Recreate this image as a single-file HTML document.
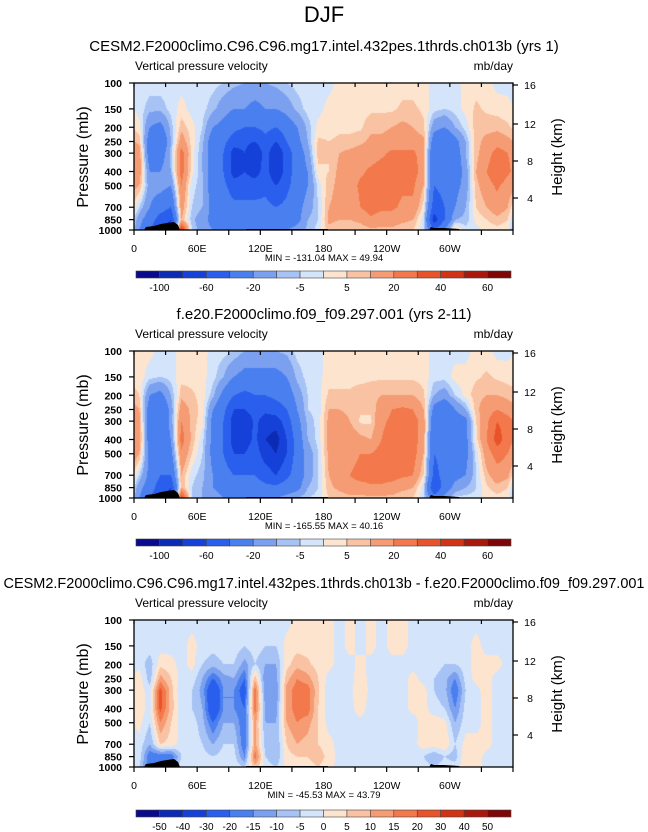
<!DOCTYPE html>
<html><head><meta charset="utf-8"><style>
body{margin:0;background:#fff;}
#wrap{position:relative;width:648px;height:832px;overflow:hidden;font-family:"Liberation Sans",sans-serif;}
canvas{position:absolute;}
svg{position:absolute;left:0;top:0;}
</style></head><body>
<div id="wrap">
<canvas id="c1" width="379" height="147" style="left:134px;top:83px"></canvas>
<canvas id="c2" width="379" height="147" style="left:134px;top:351px"></canvas>
<canvas id="c3" width="379" height="147" style="left:134px;top:620px"></canvas>
<svg id="ov" width="648" height="832">
<text x="324" y="22" font-size="22" text-anchor="middle">DJF</text>
</svg>
</div>
<script>
const levels=[100,150,200,250,300,400,500,700,850,1000];
const colors=["#0a0a8c","#0c2bb5","#1641d8","#2a5fee","#4a7ff0","#7aa0ef","#a7c3f5","#d4e5fb","#fde4cf","#f9c2a2","#f59c74","#f3784b","#e8532a","#d03414","#a9180d","#7e0606"];
const bounds1=[-100,-80,-60,-40,-20,-10,-5,0,5,10,20,30,40,50,60];
const bounds3=[-50,-40,-30,-20,-15,-10,-5,0,5,10,15,20,30,40,50];
const labels1=["-100","","-60","","-20","","-5","","5","","20","","40","","60"];
const labels3=["-50","-40","-30","-20","-15","-10","-5","0","5","10","15","20","30","40","50"];
const xTickLabels=["0","60E","120E","180","120W","60W"];
const pTickLabels=["100","150","200","250","300","400","500","700","850","1000"];
const kmTickLabels=["16","12","8","4"];
const titles=["CESM2.F2000climo.C96.C96.mg17.intel.432pes.1thrds.ch013b (yrs 1)","f.e20.F2000climo.f09_f09.297.001 (yrs 2-11)","CESM2.F2000climo.C96.C96.mg17.intel.432pes.1thrds.ch013b - f.e20.F2000climo.f09_f09.297.001"];
const minmax=["MIN = -131.04  MAX =  49.94","MIN = -165.55  MAX =  40.16","MIN = -45.53  MAX =  43.79"];
// columns: lon 5,15,...,355 ; each column values at levels top->bottom
const field1=[
[-2,-2,2,8,15,15,10,-5,-15,-20],[-2,-8,-20,-30,-30,-20,-15,-20,-30,-40],[-2,-8,-25,-40,-30,-20,-15,-30,-50,-60],[-2,-3,-8,-10,-8,-10,-20,-40,-60,-70],
[-2,2,8,15,25,25,20,15,10,45],[-2,-2,2,3,3,2,-3,-5,-8,-5],[-2,-3,-5,-8,-10,-10,-8,-10,-15,-15],[-3,-8,-20,-30,-30,-30,-30,-25,-25,-20],
[-5,-15,-25,-35,-40,-40,-35,-30,-25,-20],[-8,-20,-35,-50,-70,-70,-50,-35,-30,-20],[-10,-20,-40,-55,-60,-60,-50,-35,-30,-25],[-10,-25,-40,-60,-80,-70,-50,-35,-30,-20],
[-10,-20,-35,-45,-50,-50,-45,-35,-30,-20],[-8,-20,-40,-60,-80,-80,-60,-40,-30,-20],[-5,-15,-30,-40,-50,-50,-45,-35,-30,-20],[-3,-8,-20,-25,-30,-30,-30,-25,-25,-15],
[-2,-3,-8,-10,-15,-20,-20,-15,-10,-8],[-2,-2,2,6,8,3,-3,-5,-5,-3],[-2,2,3,5,5,5,8,10,12,8],[2,2,4,6,10,12,12,12,10,6],
[2,3,4,6,12,15,15,12,10,6],[2,3,4,8,15,18,22,20,12,6],[2,4,8,12,15,22,25,25,18,8],[2,4,8,12,18,25,25,22,15,8],
[2,4,10,15,22,25,25,22,15,8],[3,6,12,15,22,25,22,18,12,6],[3,6,10,15,22,25,22,18,10,5],[2,4,6,12,15,15,10,3,-3,-3],
[-2,-3,-15,-30,-40,-40,-40,-50,-70,-40],[-2,-5,-20,-40,-40,-35,-35,-40,-40,-20],[-2,-3,-10,-25,-30,-30,-25,-20,-10,8],[2,2,-3,-10,-10,-15,-15,-10,-8,-3],
[3,6,8,8,8,10,8,5,2,-2],[2,4,8,12,15,20,15,10,5,2],[-2,3,8,15,25,30,22,15,8,3],[-2,2,6,12,20,22,15,10,5,2]];
const field2=[
[2,3,5,10,15,15,10,-5,-15,-20],[2,-3,-20,-30,-35,-30,-25,-25,-30,-40],[-2,-5,-25,-40,-40,-35,-30,-40,-50,-60],[-2,-3,-10,-15,-15,-20,-25,-40,-60,-70],
[2,3,8,15,20,25,18,10,10,40],[2,3,6,8,8,8,5,-3,-5,-5],[2,2,3,3,2,-3,-5,-8,-10,-10],[-2,-3,-8,-20,-25,-25,-25,-20,-20,-15],
[-3,-10,-25,-35,-40,-40,-40,-30,-25,-20],[-5,-20,-40,-60,-70,-70,-60,-40,-30,-20],[-10,-25,-45,-60,-80,-70,-60,-40,-30,-20],[-10,-25,-40,-50,-55,-55,-50,-40,-30,-20],
[-10,-25,-40,-55,-70,-80,-70,-50,-35,-20],[-10,-25,-35,-50,-70,-90,-80,-60,-35,-20],[-8,-20,-30,-40,-50,-60,-60,-45,-30,-15],[-3,-8,-15,-20,-25,-30,-30,-30,-25,-10],
[-2,-3,-5,-5,-8,-10,-15,-15,-10,-5],[-2,-2,-2,-3,-3,-3,-5,-5,-5,-3],[2,3,6,10,12,12,12,10,8,5],[2,3,6,10,15,15,15,15,12,6],
[2,3,6,8,10,15,15,20,15,8],[2,3,8,6,4,12,20,25,15,8],[2,4,8,6,4,10,20,25,18,8],[2,4,10,15,18,20,25,25,18,8],
[2,4,10,20,22,25,25,25,15,8],[2,4,10,22,25,25,25,22,12,6],[2,4,10,20,25,25,25,20,10,5],[2,3,6,10,15,15,10,5,-3,-3],
[-2,-3,-10,-25,-35,-40,-40,-45,-60,-30],[-2,-3,-15,-35,-40,-40,-35,-35,-30,-15],[-2,2,-5,-20,-30,-35,-30,-25,-15,-3],[-2,2,2,-10,-25,-25,-25,-20,-10,-3],
[2,4,8,8,5,3,-3,-5,-5,-3],[2,6,10,15,18,20,15,8,4,2],[-2,4,10,20,30,35,25,15,8,3],[-2,3,8,15,25,25,20,12,5,2]];
const field3=[
[-2,-2,-2,3,3,3,2,-2,-2,-5],[-2,-2,-8,-8,-3,-2,-5,-10,-20,-20],[-2,-2,3,12,22,22,15,5,-20,-20],[-2,-2,2,5,8,8,5,3,-20,-10],
[-2,-2,-2,-2,-5,-3,-2,-2,-5,-2],[-2,2,2,-2,-5,-5,-2,-2,-2,-2],[-2,-2,-5,-10,-12,-10,-8,-5,-3,-2],[-2,-3,-8,-20,-30,-30,-20,-10,-5,-2],
[-2,-2,-5,-12,-15,-15,-10,-5,-3,-2],[-2,-2,-5,-10,-15,-15,-10,-5,-3,-2],[-2,-5,-12,-20,-25,-20,-20,-20,-15,-5],[-2,-2,-5,8,18,18,12,12,18,8],
[-2,-5,-10,-15,-15,-12,-10,-8,-5,-2],[-2,-5,-10,-12,-15,-12,-10,-10,-10,-5],[-2,2,3,8,12,12,10,5,3,2],[2,3,8,15,18,18,15,10,5,3],
[2,3,6,12,18,18,12,8,5,3],[2,2,3,5,6,5,5,5,8,5],[2,2,2,-2,-3,-3,-2,2,3,2],[-2,-2,-2,-5,-5,-3,-2,-2,-2,-2],
[2,2,-2,-2,-2,-2,-2,-2,-2,-2],[-2,-2,2,3,5,3,-2,-2,-2,-2],[2,2,-2,-2,-2,-3,-2,-2,-2,-2],[-2,-2,-2,-5,-5,-5,-3,-2,-2,-2],
[2,2,-2,-3,-5,-3,-2,-2,-5,-2],[2,2,-2,-2,-2,-2,-2,-2,-2,-2],[-2,-2,-2,2,2,2,-3,-2,-2,-2],[-2,-2,-2,-2,2,2,3,3,-5,-2],
[-2,-2,-2,-5,-5,-3,3,3,-10,-5],[-2,-2,-5,-8,-8,-5,2,5,-5,-2],[-2,-2,-5,-15,-20,-15,-10,-5,-8,-2],[-2,-2,-2,-3,-5,-3,-2,2,5,3],
[-2,2,2,2,-2,-2,-2,2,3,2],[-2,-2,2,2,3,2,2,2,-2,-2],[-2,-2,2,-2,-3,-2,-2,-2,-2,-2],[-2,-2,-2,-2,-2,-2,-2,-2,-2,-5]];

const PX=134,PW=379,PH=147;
const tops=[83,351,620];
function hex(c){return [parseInt(c.slice(1,3),16),parseInt(c.slice(3,5),16),parseInt(c.slice(5,7),16)];}
const rgb=colors.map(hex);
const logL=levels.map(v=>Math.log10(v));
function yOfP(p){return (Math.log10(p)-2)*PH;}
function xOfLon(l){return l/360*PW;}
function drawField(id,cols,bounds){
  const ctx=document.getElementById(id).getContext('2d');
  const img=ctx.createImageData(PW,PH);
  const n=cols.length;
  for(let py=0;py<PH;py++){
    const lp=2+(py+0.5)/PH;
    let j=0;while(j<logL.length-2&&lp>logL[j+1])j++;
    let t=(lp-logL[j])/(logL[j+1]-logL[j]);t=Math.max(0,Math.min(1,t));
    for(let px=0;px<PW;px++){
      const lon=(px+0.5)/PW*360;
      let c=(lon-5)/10;let i0=Math.floor(c);const s=c-i0;
      i0=((i0%n)+n)%n;const i1=(i0+1)%n;
      const a=cols[i0][j]*(1-t)+cols[i0][j+1]*t;
      const b=cols[i1][j]*(1-t)+cols[i1][j+1]*t;
      const v=a*(1-s)+b*s;
      let k=0;while(k<bounds.length&&v>=bounds[k])k++;
      const col=rgb[k];const o=(py*PW+px)*4;
      img.data[o]=col[0];img.data[o+1]=col[1];img.data[o+2]=col[2];img.data[o+3]=255;
    }
  }
  ctx.putImageData(img,0,0);
}
drawField('c1',field1,bounds1);
drawField('c2',field2,bounds1);
drawField('c3',field3,bounds3);

const svg=document.getElementById('ov');
const NS='http://www.w3.org/2000/svg';
function el(tag,attrs,txt){const e=document.createElementNS(NS,tag);for(const k in attrs)e.setAttribute(k,attrs[k]);if(txt!==undefined)e.textContent=txt;svg.appendChild(e);return e;}
const kmOffsets=[2,41,78,115];
const cbTops=[271,539,810];
for(let p=0;p<3;p++){
  const T=tops[p];
  const tt=el('text',{x:324,y:T-32,'font-size':15,'text-anchor':'middle'},titles[p]);
  
  
  if(p===2){tt.setAttribute('textLength','641');tt.setAttribute('lengthAdjust','spacingAndGlyphs');}
  const vt=el('text',{x:PX+1,y:T-13,'font-size':12},'Vertical pressure velocity');
  
  
  const ut=el('text',{x:PX+PW,y:T-13,'font-size':12,'text-anchor':'end'},'mb/day');
  
  
  const topo=el('polygon',{points:[[10,147],[12,144],[20,143],[27,141],[33,140],[40,139],[44,142],[46,147]].map(q=>(PX+q[0])+','+(T+q[1])).join(' '),fill:'#000'});
  
  
  const t2=el('rect',{x:PX+112,y:T+146,width:82,height:1.5,fill:'#000'});
  
  
  const t3=el('polygon',{points:[[295,147],[297,144],[300,145],[310,145],[325,146],[326,147]].map(q=>(PX+q[0])+','+(T+q[1])).join(' '),fill:'#000'});
  
  
  const fr=el('rect',{x:PX,y:T,width:PW,height:PH,fill:'none',stroke:'#000','stroke-width':1.3});
  
  
  for(let l=0;l<=360;l+=30){
    const x=PX+xOfLon(l);
    el('line',{x1:x,y1:T+PH,x2:x,y2:T+PH+5,stroke:'#000','stroke-width':1.2});
    el('line',{x1:x,y1:T,x2:x,y2:T+4,stroke:'#000','stroke-width':1.2});
  }
  xTickLabels.forEach((s,i)=>{
    const xl=el('text',{x:PX+xOfLon(i*60),y:T+PH+22,'font-size':10.5,'text-anchor':'middle'},s);
    
    
  });
  levels.forEach((lv,i)=>{
    const y=T+yOfP(lv);
    el('line',{x1:PX-5,y1:y,x2:PX,y2:y,stroke:'#000','stroke-width':1.2});
    const yl=el('text',{x:PX-12,y:y+4,'font-size':10.5,'font-weight':'bold','text-anchor':'end'},pTickLabels[i]);
    
    
  });
  kmTickLabels.forEach((s,i)=>{
    const y=T+kmOffsets[i];
    el('line',{x1:PX+PW,y1:y,x2:PX+PW+5,y2:y,stroke:'#000','stroke-width':1.2});
    const kl=el('text',{x:PX+PW+17,y:y+4,'font-size':10.5,'text-anchor':'middle'},s);
    
    
  });
  const pa=el('text',{x:0,y:0,'font-size':16,'text-anchor':'middle',transform:`translate(88,${T+74}) rotate(-90)`},'Pressure (mb)');
  
  
  const ha=el('text',{x:0,y:0,'font-size':15,'text-anchor':'middle',transform:`translate(562,${T+74}) rotate(-90)`},'Height (km)');
  
  
  const mm=el('text',{x:324,y:T+PH+31,'font-size':9.5,'text-anchor':'middle'},minmax[p]);
  
  
  const cy=cbTops[p],cx=136,cw=375/16;
  colors.forEach((c,i)=>{
    const r=el('rect',{x:cx+i*cw,y:cy,width:cw,height:7,fill:c,stroke:'#444','stroke-width':0.6});
    
    
  });
  const labs=p===2?labels3:labels1;
  labs.forEach((s,i)=>{
    if(!s)return;
    const lt=el('text',{x:cx+(i+1)*cw,y:cy+20,'font-size':10,'text-anchor':'middle'},s);
    
    
  });
}
</script>
</body></html>
